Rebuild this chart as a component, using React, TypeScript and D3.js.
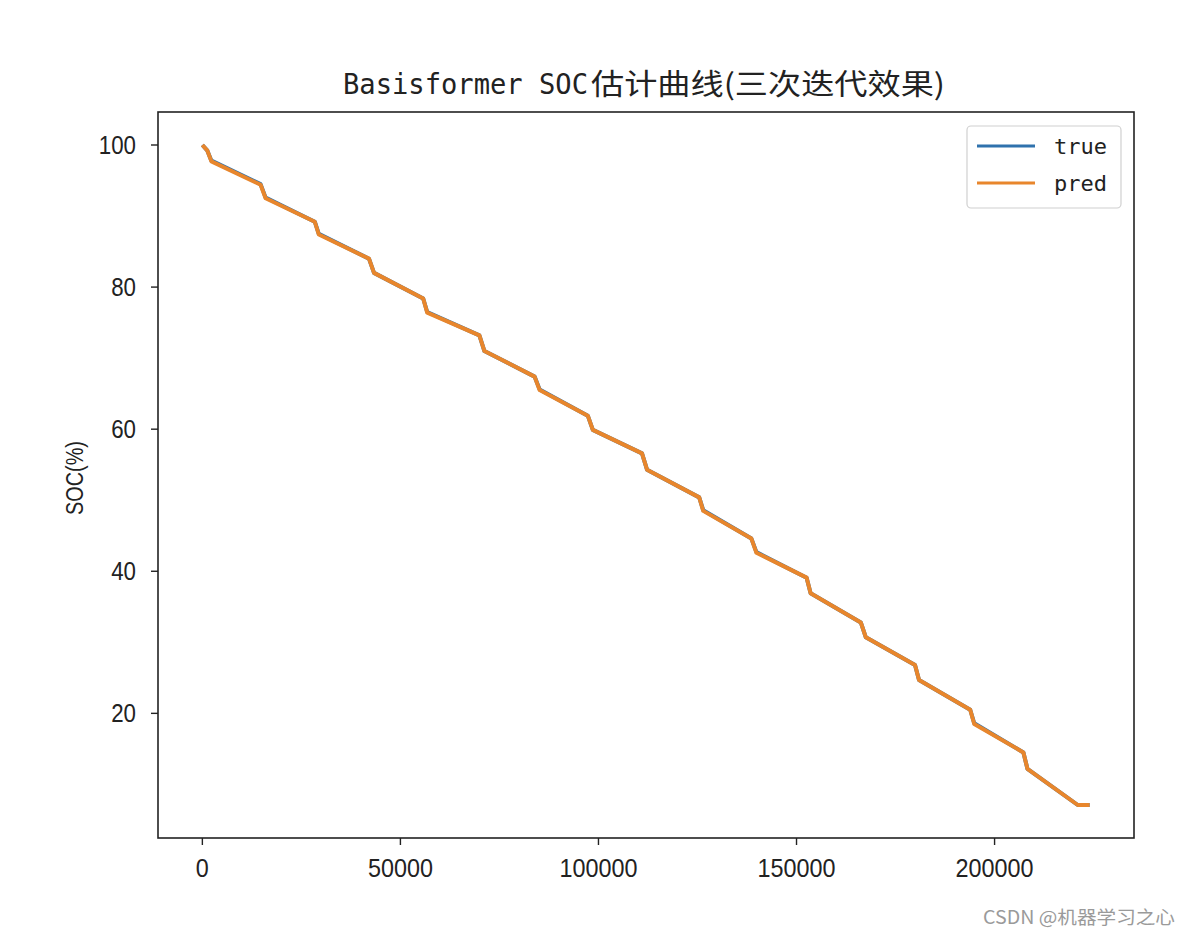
import React from "react";
import * as d3 from "d3";

// Sample index (x) and SOC values
const sampleIndex = [
  0, 1267, 2281, 14697, 15964, 28381, 29394, 42064, 43331, 55748, 56762,
  69938, 71206, 83875, 85142, 97306, 98573, 110989, 112256, 125433, 126447,
  138610, 139877, 152547, 153560, 166230, 167497, 179914, 180927, 193850,
  194865, 207280, 208295, 221000, 224000,
];
const trueSOC = [
  100, 99.2, 97.8, 94.5, 92.6, 89.2, 87.5, 84.0, 82.0, 78.4, 76.5,
  73.2, 71.0, 67.4, 65.6, 61.9, 59.9, 56.6, 54.3, 50.4, 48.6,
  44.6, 42.7, 39.1, 36.9, 32.8, 30.7, 26.8, 24.7, 20.5,
  18.6, 14.5, 12.2, 7.1, 7.1,
];
const predSOC = [
  100, 99.2, 97.7, 94.4, 92.5, 89.2, 87.4, 84.0, 82.0, 78.4, 76.4,
  73.2, 71.0, 67.4, 65.5, 61.9, 59.9, 56.6, 54.3, 50.4, 48.5,
  44.6, 42.6, 39.1, 36.9, 32.8, 30.7, 26.8, 24.7, 20.5,
  18.5, 14.5, 12.2, 7.1, 7.1,
];
const xTicks = [0, 50000, 100000, 150000, 200000];
const yTicks = [20, 40, 60, 80, 100];
const titleLatin = "Basisformer SOC";
const titleCJK = "估计曲线(三次迭代效果)";
const yLabel = "SOC(%)";
const legendLabels = ["true", "pred"];
const watermark = "CSDN @机器学习之心";

const BLUE = "#2f72ad";
const ORANGE = "#e8862c";

export default function App() {
  const left = 158, right = 1134, top = 112, bottom = 838;
  const xExt = d3.extent(sampleIndex) as [number, number];
  const xPad = (xExt[1] - xExt[0]) * 0.05;
  const yAll = trueSOC.concat(predSOC);
  const yExt = d3.extent(yAll) as [number, number];
  const yPad = (yExt[1] - yExt[0]) * 0.05;
  const x = d3.scaleLinear().domain([xExt[0] - xPad, xExt[1] + xPad]).range([left, right]);
  const y = d3.scaleLinear().domain([yExt[0] - yPad, yExt[1] + yPad]).range([bottom, top]);
  const line = d3
    .line<number>()
    .x((_, i) => x(sampleIndex[i]))
    .y((d) => y(d))
    .curve(d3.curveLinear);

  const tickFont = "'Liberation Sans', Arial, sans-serif";
  const mono = "'DejaVu Sans Mono', monospace";
  const cjk = "'Noto Sans CJK SC', sans-serif";

  return (
    <svg
      width={1190}
      height={936}
      style={{ position: "absolute", left: 0, top: 0, background: "#fff" }}
    >
      <rect x={0} y={0} width={1190} height={936} fill="#fff" />
      {/* title */}
      <text x={343} y={94} fontFamily={mono} fontSize={27.5} fill="#222" textLength={245} lengthAdjust="spacingAndGlyphs">
        {titleLatin}
      </text>
      <text x={591} y={95} fontFamily={cjk} fontSize={29} fill="#222" textLength={354} lengthAdjust="spacingAndGlyphs">
        {titleCJK}
      </text>

      {/* lines */}
      <path d={line(trueSOC) || ""} fill="none" stroke={BLUE} strokeWidth={4} strokeLinejoin="round" />
      <path d={line(predSOC) || ""} fill="none" stroke={ORANGE} strokeWidth={4} strokeLinejoin="round" />

      {/* axes frame */}
      <rect x={left} y={top} width={right - left} height={bottom - top} fill="none" stroke="#222" strokeWidth={1.6} />

      {/* x ticks */}
      {xTicks.map((t) => (
        <g key={"x" + t}>
          <line x1={x(t)} x2={x(t)} y1={bottom} y2={bottom + 7} stroke="#222" strokeWidth={1.4} />
          <text
            x={x(t)}
            y={877}
            textAnchor="middle"
            fontFamily={tickFont}
            fontSize={26}
            fill="#222"
            textLength={String(t).length * 13}
            lengthAdjust="spacingAndGlyphs"
          >
            {String(t)}
          </text>
        </g>
      ))}

      {/* y ticks */}
      {yTicks.map((t) => (
        <g key={"y" + t}>
          <line x1={left - 7} x2={left} y1={y(t)} y2={y(t)} stroke="#222" strokeWidth={1.4} />
          <text
            x={136}
            y={y(t) + 9}
            textAnchor="end"
            fontFamily={tickFont}
            fontSize={25}
            fill="#222"
            textLength={String(t).length * 12.4}
            lengthAdjust="spacingAndGlyphs"
          >
            {String(t)}
          </text>
        </g>
      ))}

      {/* y label */}
      <text
        transform={`translate(83, 478) rotate(-90)`}
        textAnchor="middle"
        fontFamily={tickFont}
        fontSize={23}
        fill="#222"
        textLength={74}
        lengthAdjust="spacingAndGlyphs"
      >
        {yLabel}
      </text>

      {/* legend */}
      <rect x={967} y={126} width={154} height={82} rx={4} ry={4} fill="#fff" fillOpacity={0.8} stroke="#d0d0d0" strokeWidth={1.2} />
      {legendLabels.map((lab, i) => {
        const ly = 146 + i * 37;
        return (
          <g key={lab}>
            <line x1={977} x2={1035} y1={ly} y2={ly} stroke={i === 0 ? BLUE : ORANGE} strokeWidth={3} />
            <text x={1054} y={ly + 8} fontFamily={mono} fontSize={22} fill="#222" textLength={53} lengthAdjust="spacingAndGlyphs">
              {lab}
            </text>
          </g>
        );
      })}

      {/* watermark */}
      <text x={983} y={924} fontFamily={cjk} fontSize={18.5} fill="#9a9a9a" textLength={192} lengthAdjust="spacingAndGlyphs">
        {watermark}
      </text>
    </svg>
  );
}
